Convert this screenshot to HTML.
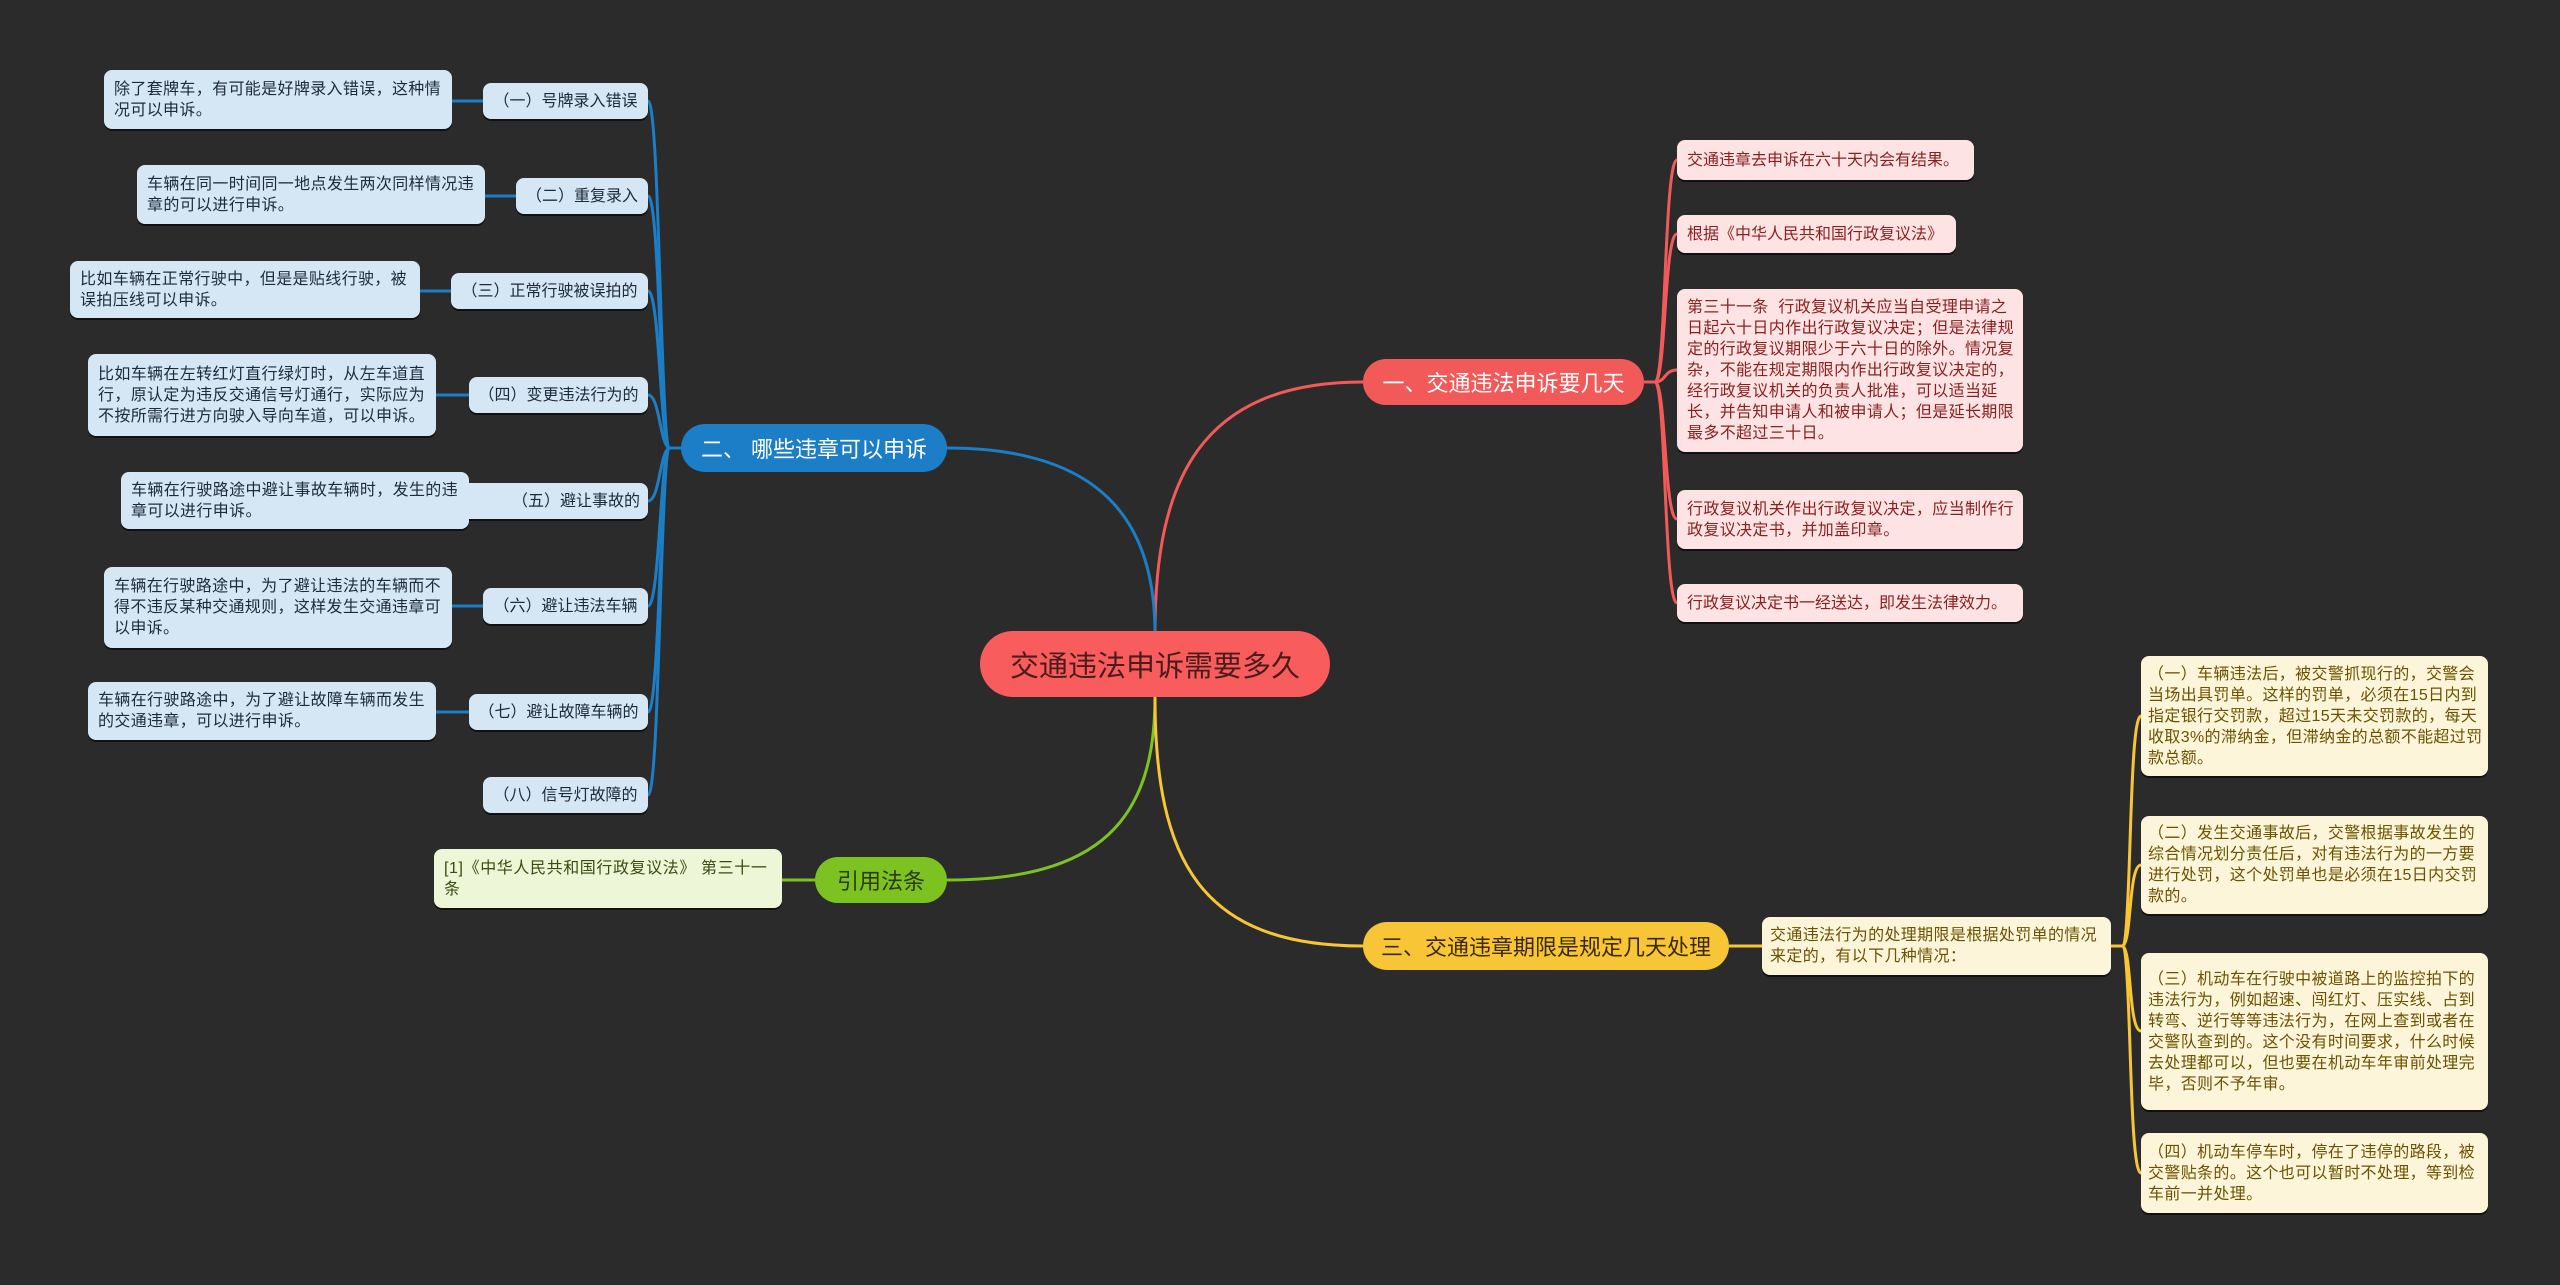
<!DOCTYPE html>
<html><head><meta charset="utf-8"><style>
body{margin:0;width:2560px;height:1285px;background:#2b2b2b;overflow:hidden;position:relative;font-family:"Liberation Sans","Noto Sans CJK SC",sans-serif}
.n{position:absolute;box-sizing:border-box;border-radius:8px;font-size:16px;line-height:21px;padding:0 8px 0 10px;display:flex;align-items:center;letter-spacing:0.35px}
.b{background:#d5e7f4;color:#1e2a38;box-shadow:0 2px 0 #111}
.r{background:#fde3e3;color:#8a1f1f;box-shadow:0 2px 0 #111}
.y{background:#fdf5da;color:#6b5200;box-shadow:0 2px 0 #111}
.g{background:#eef6d8;color:#3a4a10;box-shadow:0 2px 0 #111}
.m{justify-content:center;padding:0;font-size:16px;letter-spacing:0}
.nw{white-space:nowrap;letter-spacing:0}
.br{position:absolute;box-sizing:border-box;border-radius:24px;display:flex;align-items:center;justify-content:center;font-size:22px}
svg{position:absolute;left:0;top:0}
</style></head><body>
<svg width="2560" height="1285" fill="none" stroke-width="3">
<path d="M1155 633 C1155 480 1200 382 1363 382" stroke="#f25a5a"/>
<path d="M1155 633 C1155 520 1100 448 947 448" stroke="#1b7ec6"/>
<path d="M1155 697 C1155 820 1100 880 947 880" stroke="#7cc322"/>
<path d="M1155 697 C1155 860 1200 946 1363 946" stroke="#f7c535"/>
<g stroke="#1b7ec6" stroke-width="3">
<path d="M681 448 L670 448"/>
<path d="M670 448 C660 448 660 101 648 101"/>
<path d="M670 448 C660 448 660 196 648 196"/>
<path d="M670 448 C660 448 660 291 648 291"/>
<path d="M670 448 C660 448 660 395 648 395"/>
<path d="M670 448 C660 448 660 501 648 501"/>
<path d="M670 448 C660 448 660 606 648 606"/>
<path d="M670 448 C660 448 660 712 648 712"/>
<path d="M670 448 C660 448 660 795 648 795"/>
<path d="M483 101 H452 M516 196 H485 M451 291 H420 M469 395 H436 M456 501 H469 M483 606 H452 M469 712 H436"/>
</g>
<g stroke="#f25a5a" stroke-width="3">
<path d="M1644 382 H1655"/>
<path d="M1655 382 C1666 382 1664 160 1677 160"/>
<path d="M1655 382 C1666 382 1664 234 1677 234"/>
<path d="M1655 382 C1666 382 1664 370 1677 370"/>
<path d="M1655 382 C1666 382 1664 519 1677 519"/>
<path d="M1655 382 C1666 382 1664 603 1677 603"/>
</g>
<path d="M815 880 H782" stroke="#7cc322"/>
<g stroke="#f7c535" stroke-width="3">
<path d="M1729 946 H1762"/>
<path d="M2111 946 H2122"/>
<path d="M2122 946 C2132 946 2128 716 2141 716"/>
<path d="M2122 946 C2132 946 2128 865 2141 865"/>
<path d="M2122 946 C2132 946 2128 1031 2141 1031"/>
<path d="M2122 946 C2132 946 2128 1173 2141 1173"/>
</g>
</svg>

<div class="br" style="left:980px;top:631px;width:350px;height:66px;border-radius:33px;background:#f85c5c;color:#4a1c1c;font-size:29px">交通违法申诉需要多久</div>

<div class="br" style="left:1363px;top:359px;width:281px;height:46px;background:#f25a5a;color:#fff">一、交通违法申诉要几天</div>
<div class="br" style="left:681px;top:424px;width:266px;height:48px;background:#1b7ec6;color:#fff">二、 哪些违章可以申诉</div>
<div class="br" style="left:815px;top:857px;width:132px;height:46px;background:#7cc322;color:#2a3a08">引用法条</div>
<div class="br" style="left:1363px;top:922px;width:366px;height:48px;background:#f7c535;color:#3a2a00">三、交通违章期限是规定几天处理</div>

<div class="n r nw" style="left:1677px;top:140px;width:297px;height:40px">交通违章去申诉在六十天内会有结果。</div>
<div class="n r nw" style="left:1677px;top:215px;width:279px;height:38px">根据《中华人民共和国行政复议法》</div>
<div class="n r" style="left:1677px;top:289px;width:346px;height:163px">第三十一条&nbsp; 行政复议机关应当自受理申请之日起六十日内作出行政复议决定；但是法律规定的行政复议期限少于六十日的除外。情况复杂，不能在规定期限内作出行政复议决定的，经行政复议机关的负责人批准，可以适当延长，并告知申请人和被申请人；但是延长期限最多不超过三十日。</div>
<div class="n r" style="left:1677px;top:490px;width:346px;height:59px">行政复议机关作出行政复议决定，应当制作行政复议决定书，并加盖印章。</div>
<div class="n r nw" style="left:1677px;top:584px;width:346px;height:38px">行政复议决定书一经送达，即发生法律效力。</div>

<div class="n b m" style="left:483px;top:83px;width:165px;height:36px">（一）号牌录入错误</div>
<div class="n b m" style="left:516px;top:178px;width:132px;height:36px">（二）重复录入</div>
<div class="n b m" style="left:451px;top:273px;width:197px;height:36px">（三）正常行驶被误拍的</div>
<div class="n b m" style="left:469px;top:377px;width:179px;height:36px">（四）变更违法行为的</div>
<div class="n b m" style="left:456px;top:483px;width:192px;height:36px;justify-content:flex-end;padding-right:8px">（五）避让事故的</div>
<div class="n b m" style="left:483px;top:588px;width:165px;height:36px">（六）避让违法车辆</div>
<div class="n b m" style="left:469px;top:694px;width:179px;height:36px">（七）避让故障车辆的</div>
<div class="n b m" style="left:483px;top:777px;width:165px;height:36px">（八）信号灯故障的</div>

<div class="n b" style="left:104px;top:70px;width:348px;height:59px">除了套牌车，有可能是好牌录入错误，这种情况可以申诉。</div>
<div class="n b" style="left:137px;top:165px;width:348px;height:59px">车辆在同一时间同一地点发生两次同样情况违章的可以进行申诉。</div>
<div class="n b" style="left:70px;top:261px;width:350px;height:57px">比如车辆在正常行驶中，但是是贴线行驶，被误拍压线可以申诉。</div>
<div class="n b" style="left:88px;top:354px;width:348px;height:82px">比如车辆在左转红灯直行绿灯时，从左车道直行，原认定为违反交通信号灯通行，实际应为不按所需行进方向驶入导向车道，可以申诉。</div>
<div class="n b" style="left:121px;top:472px;width:348px;height:57px">车辆在行驶路途中避让事故车辆时，发生的违章可以进行申诉。</div>
<div class="n b" style="left:104px;top:567px;width:348px;height:81px">车辆在行驶路途中，为了避让违法的车辆而不得不违反某种交通规则，这样发生交通违章可以申诉。</div>
<div class="n b" style="left:88px;top:682px;width:348px;height:58px">车辆在行驶路途中，为了避让故障车辆而发生的交通违章，可以进行申诉。</div>

<div class="n g" style="left:434px;top:849px;width:348px;height:59px;letter-spacing:0.6px">[1]《中华人民共和国行政复议法》 第三十一条</div>

<div class="n y" style="left:1762px;top:917px;width:349px;height:58px;padding:0 6px 0 8px">交通违法行为的处理期限是根据处罚单的情况来定的，有以下几种情况：</div>
<div class="n y" style="left:2141px;top:656px;width:347px;height:120px;padding:0 4px 0 7px">（一）车辆违法后，被交警抓现行的，交警会当场出具罚单。这样的罚单，必须在15日内到指定银行交罚款，超过15天未交罚款的，每天收取3%的滞纳金，但滞纳金的总额不能超过罚款总额。</div>
<div class="n y" style="left:2141px;top:816px;width:347px;height:98px;padding:0 4px 0 7px">（二）发生交通事故后，交警根据事故发生的综合情况划分责任后，对有违法行为的一方要进行处罚，这个处罚单也是必须在15日内交罚款的。</div>
<div class="n y" style="left:2141px;top:953px;width:347px;height:157px;padding:0 4px 0 7px">（三）机动车在行驶中被道路上的监控拍下的违法行为，例如超速、闯红灯、压实线、占到转弯、逆行等等违法行为，在网上查到或者在交警队查到的。这个没有时间要求，什么时候去处理都可以，但也要在机动车年审前处理完毕，否则不予年审。</div>
<div class="n y" style="left:2141px;top:1133px;width:347px;height:80px;padding:0 4px 0 7px">（四）机动车停车时，停在了违停的路段，被交警贴条的。这个也可以暂时不处理，等到检车前一并处理。</div>
</body></html>
